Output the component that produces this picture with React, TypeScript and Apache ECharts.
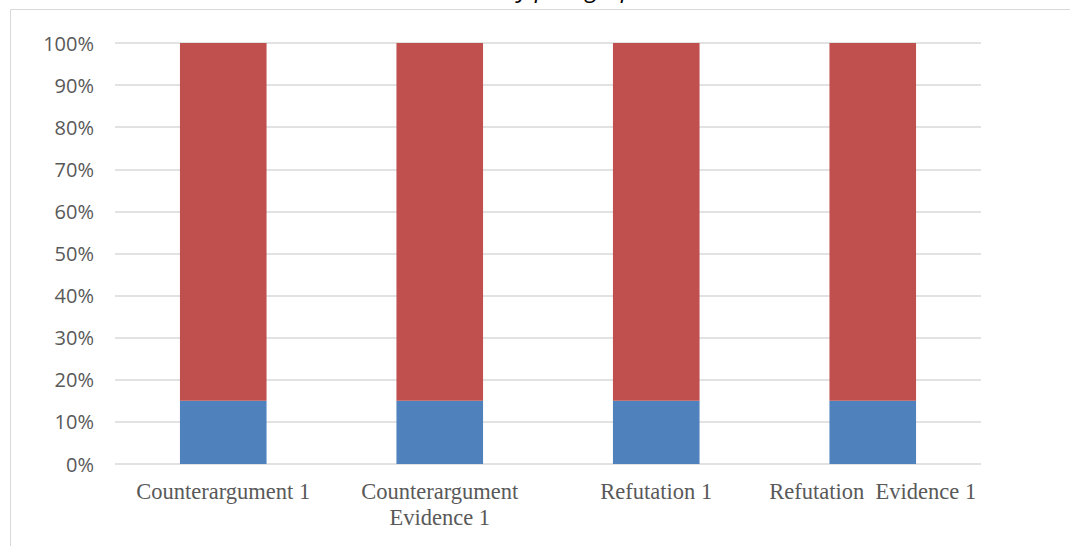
import React, { useEffect, useRef } from "react";
import * as echarts from "echarts";

const categories = [
  "Counterargument 1",
  "Counterargument\nEvidence 1",
  "Refutation 1",
  "Refutation  Evidence 1",
];
const presentValues = [15, 15, 15, 15];
const absentValues = [85, 85, 85, 85];
const yTicks = { min: 0, max: 100, interval: 10 };
const titleText = "Body paragraph";

export default function App() {
  const ref = useRef<HTMLDivElement>(null);
  useEffect(() => {
    document.body.style.margin = "0";
    const chart = echarts.init(ref.current!, null, { renderer: "svg" });
    chart.setOption({
      animation: false,
      backgroundColor: "#ffffff",
      grid: { left: 115, right: 89, top: 43, bottom: 82, containLabel: false },
      graphic: [
        {
          type: "text",
          x: 476,
          y: -1,
          style: {
            text: titleText,
            font: "italic 24px 'Open Sans'",
            fill: "#000000",
            textAlign: "left",
            textVerticalAlign: "bottom",
          },
        },
        {
          type: "polyline",
          shape: { points: [[10.5, 546], [10.5, 9.5], [1070, 9.5]] },
          style: { stroke: "#d9d9d9", lineWidth: 1, fill: "none" },
        },
      ],
      xAxis: {
        type: "category",
        data: categories,
        axisLine: { show: false },
        axisTick: { show: false },
        axisLabel: {
          color: "#595959",
          fontFamily: "'Liberation Serif', 'Times New Roman', serif",
          fontSize: 22.5,
          lineHeight: 26,
          margin: 14,
          interval: 0,
        },
      },
      yAxis: {
        type: "value",
        min: yTicks.min,
        max: yTicks.max,
        interval: yTicks.interval,
        axisLine: { show: false },
        axisTick: { show: false },
        splitLine: { lineStyle: { color: "#d9d9d9", width: 1.5 } },
        axisLabel: {
          formatter: "{value}%",
          color: "#595959",
          fontFamily: "'Open Sans', sans-serif",
          fontSize: 20,
          margin: 21,
        },
      },
      series: [
        {
          name: "Present",
          type: "bar",
          stack: "total",
          data: presentValues,
          barWidth: "40%",
          itemStyle: { color: "#4f81bd" },
        },
        {
          name: "Absent",
          type: "bar",
          stack: "total",
          data: absentValues,
          barWidth: "40%",
          itemStyle: { color: "#c0504d" },
        },
      ],
    });
    return () => chart.dispose();
  }, []);
  return (
    <div
      ref={ref}
      style={{ position: "fixed", left: 0, top: 0, width: 1070, height: 546 }}
    />
  );
}
